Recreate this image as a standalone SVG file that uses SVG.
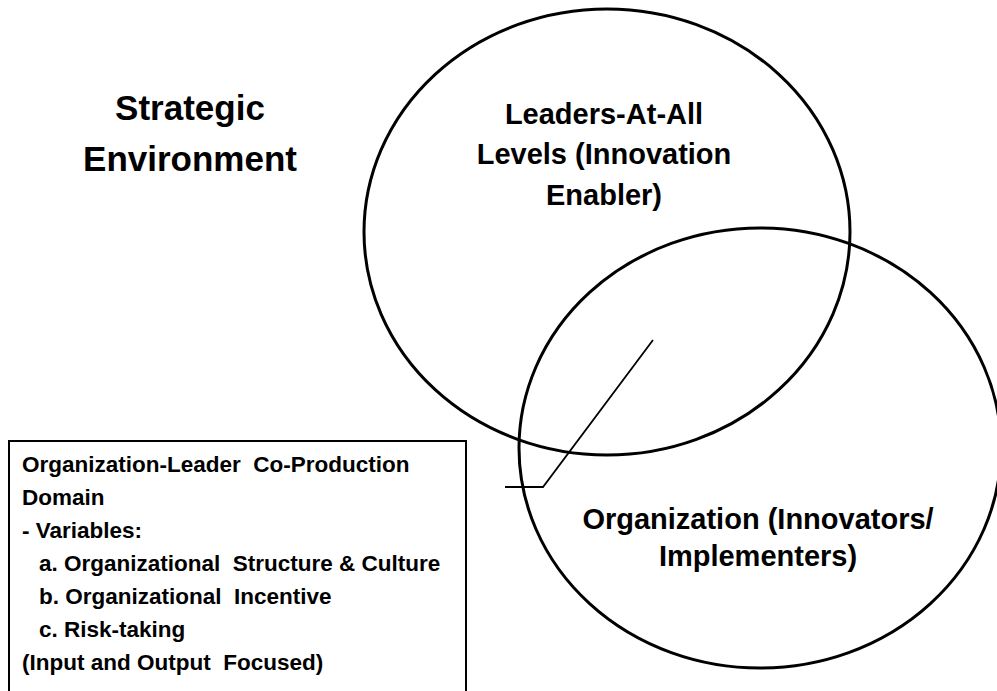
<svg xmlns="http://www.w3.org/2000/svg" width="997" height="691" viewBox="0 0 997 691">
<style>
  .circ { fill: none; stroke: #000; stroke-width: 3; }
  .big { font-family: "Liberation Sans", Arial, sans-serif; font-weight: bold; font-size: 29px; fill: #000; text-anchor: middle; }
  .title { font-family: "Liberation Sans", Arial, sans-serif; font-weight: bold; font-size: 35px; fill: #000; text-anchor: middle; }
  .small { font-family: "Liberation Sans", Arial, sans-serif; font-weight: bold; font-size: 22.5px; fill: #000; white-space: pre; }
  .conn { fill: none; stroke: #000; stroke-width: 1.8; }
</style>
<rect x="0" y="0" width="997" height="691" fill="#fff"/>
<g id="strategic-environment">
  <text class="title" x="190" y="120">Strategic</text>
  <text class="title" x="190" y="171">Environment</text>
</g>
<g id="leaders">
  <ellipse class="circ" cx="607" cy="232" rx="243" ry="223"/>
  <text class="big" x="604" y="124">Leaders-At-All</text>
  <text class="big" x="604" y="164">Levels (Innovation</text>
  <text class="big" x="604" y="205">Enabler)</text>
</g>
<g id="organization">
  <ellipse class="circ" cx="760" cy="448" rx="241" ry="220"/>
  <text class="big" x="758" y="529">Organization (Innovators/</text>
  <text class="big" x="758" y="566">Implementers)</text>
</g>
<g id="co-production-domain">
  <rect x="9" y="441" width="457" height="270" fill="none" stroke="#000" stroke-width="2"/>
  <text class="small" x="22" y="472" xml:space="preserve">Organization-Leader  Co-Production</text>
  <text class="small" x="22" y="505">Domain</text>
  <text class="small" x="22" y="538">- Variables:</text>
  <text class="small" x="39" y="571" xml:space="preserve">a. Organizational  Structure &amp; Culture</text>
  <text class="small" x="39" y="604" xml:space="preserve">b. Organizational  Incentive</text>
  <text class="small" x="39" y="637">c. Risk-taking</text>
  <text class="small" x="22" y="670" xml:space="preserve">(Input and Output  Focused)</text>
</g>
<g id="connectors">
  <polyline class="conn" points="653,340 543,487 505,487"/>
</g>
</svg>
